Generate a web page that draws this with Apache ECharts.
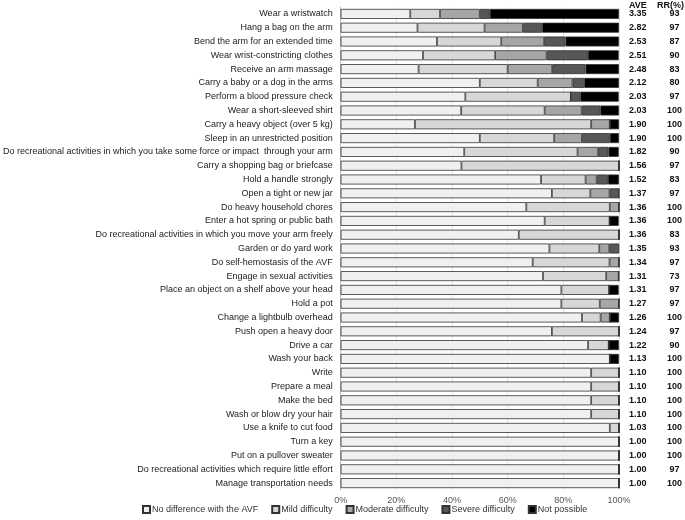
<!DOCTYPE html>
<html>
<head>
<meta charset="utf-8">
<script src="https://cdn.jsdelivr.net/npm/echarts@6/dist/echarts.min.js"></script>
<style>
  html, body { margin: 0; padding: 0; background: #fff; }
  #chart { width: 685px; height: 520px; }
</style>
</head>
<body>
<div id="chart"></div>
<script>
// Activities, top to bottom
const activities = [
    'Wear a wristwatch',
    'Hang a bag on the arm',
    'Bend the arm for an extended time',
    'Wear wrist-constricting clothes',
    'Receive an arm massage',
    'Carry a baby or a dog in the arms',
    'Perform a blood pressure check',
    'Wear a short-sleeved shirt',
    'Carry a heavy object (over 5 kg)',
    'Sleep in an unrestricted position',
    'Do recreational activities in which you take some force or impact  through your arm',
    'Carry a shopping bag or briefcase',
    'Hold a handle strongly',
    'Open a tight or new jar',
    'Do heavy household chores',
    'Enter a hot spring or public bath',
    'Do recreational activities in which you move your arm freely',
    'Garden or do yard work',
    'Do self-hemostasis of the AVF',
    'Engage in sexual activities',
    'Place an object on a shelf above your head',
    'Hold a pot',
    'Change a lightbulb overhead',
    'Push open a heavy door',
    'Drive a car',
    'Wash your back',
    'Write',
    'Prepare a meal',
    'Make the bed',
    'Wash or blow dry your hair',
    'Use a knife to cut food',
    'Turn a key',
    'Put on a pullover sweater',
    'Do recreational activities which require little effort',
    'Manage transportation needs'
];

// Percent of responders per answer
const noDifference = [25.0, 27.6, 34.6, 29.6, 28.0, 50.0, 44.8, 43.3, 26.7, 50.0, 44.4, 43.4, 72.0, 75.9, 66.7, 73.3, 64.0, 75.0, 69.0, 72.7, 79.3, 79.3, 86.7, 75.9, 88.9, 96.7, 90.0, 90.0, 90.0, 90.0, 96.7, 100, 100, 100, 100];
const mild = [10.7, 24.1, 23.1, 25.9, 32.0, 20.8, 37.9, 30.0, 63.3, 26.7, 40.7, 56.6, 16.0, 13.8, 30.0, 23.3, 36.0, 17.9, 27.6, 22.7, 17.2, 13.8, 6.7, 24.1, 7.4, 0, 10.0, 10.0, 10.0, 10.0, 3.3, 0, 0, 0, 0];
const moderate = [14.3, 13.8, 15.4, 18.5, 16.0, 12.5, 0, 13.3, 6.7, 10.0, 7.4, 0, 4.0, 6.9, 3.3, 0, 0, 3.6, 3.4, 4.5, 0, 6.9, 3.3, 0, 0, 0, 0, 0, 0, 0, 0, 0, 0, 0, 0];
const severe = [3.6, 6.9, 7.7, 14.8, 12.0, 4.2, 3.4, 6.7, 0, 10.0, 3.7, 0, 4.0, 3.4, 0, 0, 0, 3.6, 0, 0, 0, 0, 0, 0, 0, 0, 0, 0, 0, 0, 0, 0, 0, 0, 0];
const notPossible = [46.4, 27.6, 19.2, 11.1, 12.0, 12.5, 13.8, 6.7, 3.3, 3.3, 3.7, 0, 4.0, 0, 0, 3.3, 0, 0, 0, 0, 3.4, 0, 3.3, 0, 3.7, 3.3, 0, 0, 0, 0, 0, 0, 0, 0, 0];

const ave = ['3.35', '2.82', '2.53', '2.51', '2.48', '2.12', '2.03', '2.03', '1.90', '1.90', '1.82', '1.56', '1.52', '1.37', '1.36', '1.36', '1.36', '1.35', '1.34', '1.31', '1.31', '1.27', '1.26', '1.24', '1.22', '1.13', '1.10', '1.10', '1.10', '1.10', '1.03', '1.00', '1.00', '1.00', '1.00'];
const rr = ['93', '97', '87', '90', '83', '80', '97', '100', '100', '100', '90', '97', '83', '97', '100', '100', '83', '93', '97', '73', '97', '97', '100', '97', '90', '100', '100', '100', '100', '100', '100', '100', '100', '97', '100'];

const xTicks = [0, 20, 40, 60, 80, 100];

const FONT = '"Liberation Sans", Arial, sans-serif';

const answers = [
    { name: 'No difference with the AVF', data: noDifference, color: '#f0f0f0' },
    { name: 'Mild difficulty', data: mild, color: '#d7d7d7' },
    { name: 'Moderate difficulty', data: moderate, color: '#a6a6a6' },
    { name: 'Severe difficulty', data: severe, color: '#575757' },
    { name: 'Not possible', data: notPossible, color: '#000000' }
];

const chart = echarts.init(document.getElementById('chart'));

const option = {
    animation: false,
    textStyle: { fontFamily: FONT },
    grid: { left: 335, right: 66, top: 7, bottom: 30 },
    legend: {
        bottom: 1,
        left: 137,
        itemWidth: 7,
        itemHeight: 7,
        itemGap: 13,
        icon: 'rect',
        textStyle: { fontSize: 9, color: '#333', fontFamily: FONT, padding: [0, 0, 0, -3] },
        data: answers.map(a => a.name)
    },
    xAxis: {
        type: 'value',
        min: xTicks[0],
        max: xTicks[xTicks.length - 1],
        interval: 20,
        axisLine: { show: false },
        axisTick: { show: false },
        splitLine: { lineStyle: { color: '#e4e4e4', width: 1 } },
        axisLabel: { formatter: '{value}%', fontSize: 9, color: '#555', margin: 6, fontFamily: FONT }
    },
    yAxis: [
        {
            type: 'category',
            inverse: true,
            data: activities,
            axisLine: { show: true, lineStyle: { color: '#bbbbbb' } },
            axisTick: { show: false },
            axisLabel: { interval: 0, fontSize: 9, color: '#222', margin: 8, fontFamily: FONT }
        },
        {
            type: 'category',
            inverse: true,
            position: 'right',
            data: activities.map((_, i) => i),
            axisLine: { show: false },
            axisTick: { show: false },
            axisLabel: {
                interval: 0,
                margin: 10,
                formatter: (v) => `{a|${ave[v]}}{r|${rr[v]}}`,
                rich: {
                    a: { fontSize: 9, fontWeight: 'bold', color: '#111', width: 35, align: 'left', fontFamily: FONT },
                    r: { fontSize: 9, fontWeight: 'bold', color: '#111', width: 21, align: 'center', fontFamily: FONT }
                }
            }
        }
    ],
    graphic: [
        { type: 'text', left: 629, top: 1, style: { text: 'AVE', font: 'bold 9px ' + FONT, fill: '#111' } },
        { type: 'text', right: 1, top: 1, style: { text: 'RR(%)', font: 'bold 9px ' + FONT, fill: '#111' } }
    ],
    series: answers.map(a => ({
        name: a.name,
        type: 'bar',
        stack: 'total',
        barWidth: 10,
        data: a.data,
        itemStyle: { color: a.color, borderColor: '#333', borderWidth: 0.8 },
        emphasis: { disabled: true }
    }))
};

chart.setOption(option);
</script>
</body>
</html>
